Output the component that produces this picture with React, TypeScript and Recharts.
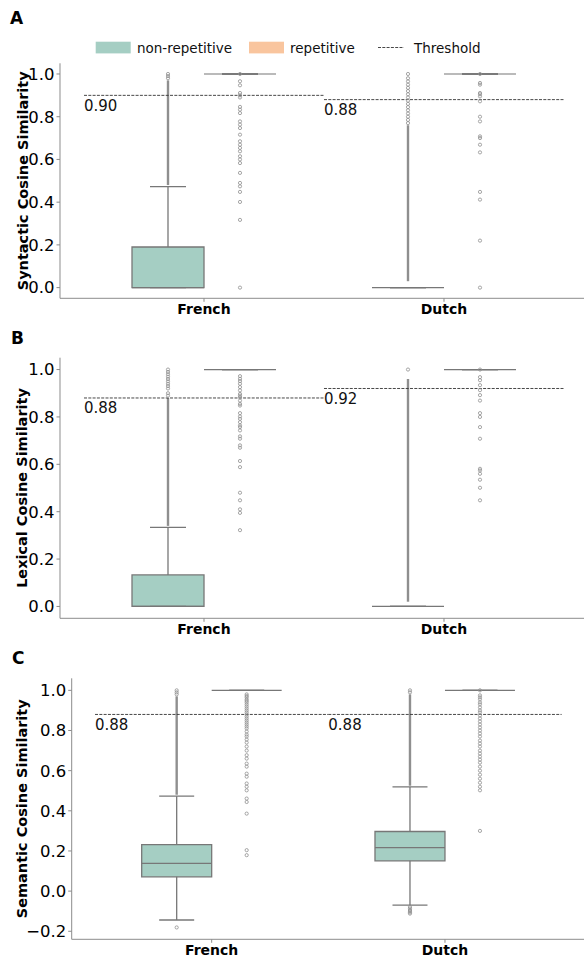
import React from "react";
import { ComposedChart, XAxis, YAxis, Scatter, ReferenceArea, ReferenceLine } from "recharts";

const categories = ["French", "Dutch"];
const hueNames = ["non-repetitive", "repetitive"];
const hueColors = ["#a5cec3", "#f9c59e"];

const yTicksAB = [0, 0.2, 0.4, 0.6, 0.8, 1.0];
const yTicksC = [-0.2, 0, 0.2, 0.4, 0.6, 0.8, 1.0];

// box stats: [lower whisker, q1, median, q3, upper whisker]
// order: French non-rep, French rep, Dutch non-rep, Dutch rep
const syntacticBoxes = [
  [0, 0, 0, 0.19, 0.473],
  [1, 1, 1, 1, 1],
  [0, 0, 0, 0, 0],
  [1, 1, 1, 1, 1],
];
const lexicalBoxes = [
  [0, 0, 0, 0.133, 0.334],
  [1, 1, 1, 1, 1],
  [0, 0, 0, 0, 0],
  [1, 1, 1, 1, 1],
];
const semanticBoxes = [
  [-0.144, 0.071, 0.138, 0.232, 0.473],
  [1, 1, 1, 1, 1],
  [-0.07, 0.151, 0.217, 0.297, 0.519],
  [1, 1, 1, 1, 1],
];

const syntacticThresholds = [0.9, 0.88];
const lexicalThresholds = [0.88, 0.92];
const semanticThresholds = [0.88, 0.88];

// runs of outliers so dense they read as a solid stroke: [from, to]
const syntacticDense = [[[0.48, 0.97]], [], [[0.03, 0.76]], []];
const lexicalDense = [[[0.34, 0.88]], [], [[0.02, 0.96]], []];
const semanticDense = [[[0.48, 0.97]], [], [[0.525, 0.98]], []];

// individual outliers
const syntacticOutliers = [
  [0.98, 0.99, 1.0],
  [1.0, 0.966, 0.947, 0.911, 0.9, 0.89, 0.846, 0.833, 0.817, 0.778, 0.763, 0.747, 0.716, 0.685, 0.669, 0.654,
    0.638, 0.615, 0.6, 0.583, 0.537, 0.49, 0.474, 0.448, 0.401, 0.317, 0.0],
  [0.77, 0.785, 0.8, 0.815, 0.83, 0.845, 0.86, 0.875, 0.89, 0.905, 0.92, 0.935, 0.95, 0.965, 0.98, 1.0],
  [1.0, 0.958, 0.95, 0.911, 0.905, 0.895, 0.872, 0.8, 0.778, 0.708, 0.7, 0.669, 0.633, 0.448, 0.412, 0.22, 0.0],
];
const lexicalOutliers = [
  [0.89, 0.9, 0.92, 0.93, 0.94, 0.95, 0.96, 0.97, 0.98, 0.99, 1.0],
  [0.972, 0.961, 0.951, 0.94, 0.926, 0.912, 0.897, 0.89, 0.883, 0.869, 0.855, 0.848, 0.816, 0.802, 0.792, 0.778,
    0.764, 0.757, 0.743, 0.718, 0.708, 0.68, 0.67, 0.614, 0.588, 0.48, 0.448, 0.41, 0.395, 0.322],
  [1.0],
  [1.0, 0.968, 0.955, 0.934, 0.913, 0.892, 0.869, 0.816, 0.8, 0.757, 0.708, 0.581, 0.574, 0.56, 0.535, 0.501, 0.448],
];
const semanticOutliers = [
  [0.98, 0.99, 1.0, -0.181],
  [0.98, 0.972, 0.965, 0.955, 0.948, 0.94, 0.93, 0.92, 0.91, 0.9, 0.89, 0.88, 0.87, 0.86, 0.85, 0.84, 0.83, 0.82,
    0.81, 0.795, 0.78, 0.77, 0.755, 0.74, 0.72, 0.7, 0.677, 0.66, 0.635, 0.62, 0.585, 0.57, 0.536, 0.52, 0.502,
    0.461, 0.444, 0.386, 0.204, 0.179],
  [0.99, 1.0, -0.078, -0.086, -0.094, -0.1, -0.106, -0.112],
  [1.0, 0.975, 0.965, 0.955, 0.94, 0.93, 0.915, 0.9, 0.89, 0.875, 0.86, 0.845, 0.83, 0.815, 0.8, 0.785, 0.77,
    0.75, 0.735, 0.72, 0.7, 0.685, 0.67, 0.655, 0.64, 0.62, 0.6, 0.58, 0.56, 0.54, 0.52, 0.502, 0.3],
];

const LINE = "#777777";
const SPINE = "#8c8c8c";
const FLIER = "#8f8f8f";
const FONT = "DejaVu Sans, sans-serif";

const X_DOMAIN = [-0.6, 1.6];
const HUE_OFFSET = 0.15;
const HALF_BOX = 0.15;
const HALF_CAP = 0.075;

const panels = [
  {
    letter: "A", title: "Syntactic Cosine Similarity", boxes: syntacticBoxes, dense: syntacticDense,
    outliers: syntacticOutliers, thresholds: syntacticThresholds, yDomain: [-0.05, 1.05], yTicks: yTicksAB,
    top: 0, plotTop: 63.3, plotHeight: 235, plotLeft: 60, unit: 240, letterPos: [10, 26],
  },
  {
    letter: "B", title: "Lexical Cosine Similarity", boxes: lexicalBoxes, dense: lexicalDense,
    outliers: lexicalOutliers, thresholds: lexicalThresholds, yDomain: [-0.05, 1.05], yTicks: yTicksAB,
    top: 330, plotTop: 27.7, plotHeight: 260.6, plotLeft: 60, unit: 240, letterPos: [11, 15.5],
  },
  {
    letter: "C", title: "Semantic Cosine Similarity", boxes: semanticBoxes, dense: semanticDense,
    outliers: semanticOutliers, thresholds: semanticThresholds, yDomain: [-0.24, 1.06], yTicks: yTicksC,
    top: 640, plotTop: 38.3, plotHeight: 261, plotLeft: 71.7, unit: 233.3, letterPos: [12, 25.5],
  },
];

const fmtY = (v: number) => (v < 0 ? "\u2212" + Math.abs(v).toFixed(1) : v.toFixed(1));

function Flier(props: any) {
  const { cx, cy } = props;
  if (cx == null || cy == null) return null;
  return <circle cx={cx} cy={cy} r={1.6} fill="none" stroke={FLIER} strokeWidth={0.8} />;
}

function ThresholdText(props: any) {
  const { cx, cy } = props;
  const label = props.payload?.label ?? props.label;
  if (cx == null || cy == null) return null;
  return (
    <text x={cx} y={cy + 15.5} fontSize={15} fill="#111" textAnchor="start" style={{ fontFamily: FONT }}>
      {label}
    </text>
  );
}

function Panel({ p }: { p: any }) {
  const plotWidth = (X_DOMAIN[1] - X_DOMAIN[0]) * p.unit;
  const width = p.plotLeft + plotWidth + 2;
  const height = p.plotTop + p.plotHeight + 32;

  const groups = p.boxes.map((b: number[], g: number) => {
    const cat = Math.floor(g / 2);
    const hue = g % 2;
    return { cat, hue, x: cat + (hue === 0 ? -HUE_OFFSET : HUE_OFFSET), stats: b };
  });

  const flierPts: { x: number; y: number }[] = [];
  groups.forEach((gr: any, g: number) => {
    p.outliers[g].forEach((y: number) => flierPts.push({ x: gr.x, y }));
  });

  const thresholdLabels = p.thresholds.map((t: number, i: number) => ({ x: i - 0.5, y: t, label: t.toFixed(2) }));

  return (
    <div style={{ position: "absolute", left: 0, top: p.top }}>
      <div
        style={{
          position: "absolute", left: p.letterPos[0], top: p.letterPos[1] - 16, fontWeight: "bold",
          fontSize: 17, lineHeight: "17px", color: "#000",
        }}
      >
        {p.letter}
      </div>
      <ComposedChart width={width} height={height} margin={{ top: p.plotTop, right: 2, bottom: 0, left: 0 }}>
        <XAxis
          dataKey="x" type="number" domain={X_DOMAIN} ticks={[0, 1]} allowDataOverflow
          tickFormatter={(v: number) => categories[v]} axisLine={{ stroke: SPINE }} tickLine={{ stroke: SPINE }}
          tickSize={3.5} height={32} interval={0}
          tick={{ fontSize: 14, fontWeight: "bold", fill: "#000", fontFamily: FONT }}
        />
        <XAxis xAxisId="top" orientation="top" type="number" domain={X_DOMAIN} height={0} tick={false}
          tickLine={false} axisLine={{ stroke: SPINE }} />
        <YAxis
          dataKey="y" type="number" domain={p.yDomain} ticks={p.yTicks} allowDataOverflow width={p.plotLeft}
          tickFormatter={fmtY} axisLine={{ stroke: SPINE }} tickLine={{ stroke: SPINE }} tickSize={3.5} interval={0}
          tick={{ fontSize: 16.5, fill: "#000", fontFamily: FONT }}
          label={(lp: any) => {
            const vb = lp.viewBox || {};
            const cy = (vb.y ?? p.plotTop) + (vb.height ?? p.plotHeight) / 2;
            return (
              <text x={22.5} y={cy} transform={`rotate(-90, 22.5, ${cy})`} textAnchor="middle"
                dominantBaseline="central" fontSize={14.5} fontWeight="bold" fill="#000" style={{ fontFamily: FONT }}>
                {p.title}
              </text>
            );
          }}
        />

        {groups.map((gr: any, g: number) => {
          const [lo, q1, med, q3, hi] = gr.stats;
          const els: any[] = [];
          if (q3 > q1) {
            els.push(
              <ReferenceArea key={`box${g}`} x1={gr.x - HALF_BOX} x2={gr.x + HALF_BOX} y1={q1} y2={q3}
                fill={hueColors[gr.hue]} fillOpacity={1} stroke={LINE} strokeWidth={1.3} />
            );
          }
          if (hi > q3) {
            els.push(<ReferenceLine key={`wh${g}`} segment={[{ x: gr.x, y: q3 }, { x: gr.x, y: hi }]} stroke={LINE} strokeWidth={1.3} />);
          }
          if (lo < q1) {
            els.push(<ReferenceLine key={`wl${g}`} segment={[{ x: gr.x, y: lo }, { x: gr.x, y: q1 }]} stroke={LINE} strokeWidth={1.3} />);
          }
          els.push(<ReferenceLine key={`ch${g}`} segment={[{ x: gr.x - HALF_CAP, y: hi }, { x: gr.x + HALF_CAP, y: hi }]} stroke={LINE} strokeWidth={1.3} />);
          els.push(<ReferenceLine key={`cl${g}`} segment={[{ x: gr.x - HALF_CAP, y: lo }, { x: gr.x + HALF_CAP, y: lo }]} stroke={LINE} strokeWidth={1.3} />);
          els.push(<ReferenceLine key={`md${g}`} segment={[{ x: gr.x - HALF_BOX, y: med }, { x: gr.x + HALF_BOX, y: med }]} stroke={LINE} strokeWidth={1.2} />);
          p.dense[g].forEach((run: number[], k: number) => {
            els.push(<ReferenceLine key={`dn${g}-${k}`} segment={[{ x: gr.x, y: run[0] }, { x: gr.x, y: run[1] }]} stroke={FLIER} strokeWidth={2.4} />);
          });
          return els;
        })}

        {p.thresholds.map((t: number, i: number) => (
          <ReferenceLine key={`th${i}`} segment={[{ x: i - 0.5, y: t }, { x: i + 0.5, y: t }]} stroke="#333"
            strokeWidth={0.9} strokeDasharray="3 1.3" />
        ))}

        <Scatter data={flierPts} dataKey="y" shape={<Flier />} isAnimationActive={false} />
        <Scatter data={thresholdLabels} dataKey="y" shape={<ThresholdText />} isAnimationActive={false} />
      </ComposedChart>
    </div>
  );
}

function LegendBar() {
  return (
    <svg width={584} height={60} style={{ position: "absolute", left: 0, top: 0 }}>
      <rect x={95.7} y={41.7} width={35} height={11.7} fill={hueColors[0]} />
      <text x={137} y={52.5} fontSize={13.5} fill="#111" style={{ fontFamily: FONT }}>{hueNames[0]}</text>
      <rect x={249} y={41.7} width={35} height={11.7} fill={hueColors[1]} />
      <text x={290} y={52.5} fontSize={13.5} fill="#111" style={{ fontFamily: FONT }}>{hueNames[1]}</text>
      <line x1={378} x2={404} y1={47.5} y2={47.5} stroke="#333" strokeWidth={0.9} strokeDasharray="3 1.3" />
      <text x={414} y={52.5} fontSize={13.5} fill="#111" style={{ fontFamily: FONT }}>Threshold</text>
    </svg>
  );
}

export default function App() {
  return (
    <div
      style={{
        position: "absolute", left: 0, top: 0, width: 584, height: 955, overflow: "hidden",
        background: "#fff", fontFamily: FONT,
      }}
    >
      {panels.map((p) => (
        <Panel key={p.letter} p={p} />
      ))}
      <LegendBar />
    </div>
  );
}
